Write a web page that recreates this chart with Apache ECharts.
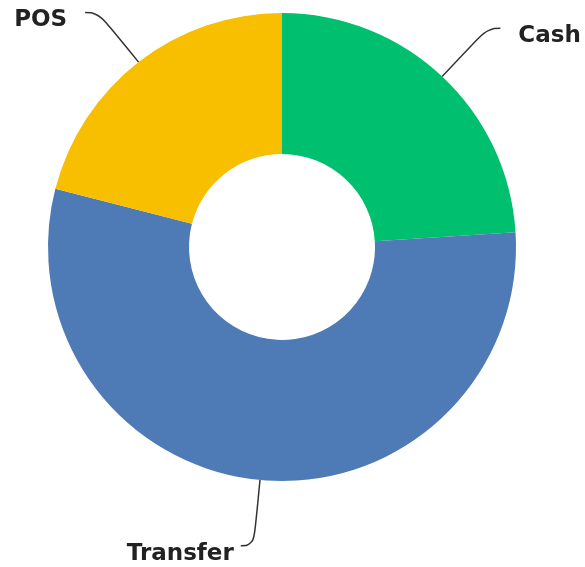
<!DOCTYPE html>
<html>
<head>
<meta charset="utf-8">
<script src="https://cdn.jsdelivr.net/npm/echarts@6/dist/echarts.min.js"></script>
<style>
  html, body { margin: 0; padding: 0; background: #fff; }
  #chart { width: 585px; height: 567px; }
</style>
</head>
<body>
<div id="chart"></div>
<script>
const categories = ['Cash', 'Transfer', 'POS']
const values = [24, 55, 21]
const colors = ['#00BF6F', '#4E7AB5', '#F8BE00']

let myChart = echarts.init(document.getElementById('chart'))

myChart.setOption({
  animation: false,
  color: colors,
  series: [
    {
      type: 'pie',
      center: [282, 247],
      radius: [93, 234],
      startAngle: 90,
      label: {
        show: true,
        color: '#222',
        fontFamily: 'DejaVu Sans',
        fontWeight: 'bold',
        fontSize: 23,
        overflow: 'none',
        distanceToLabelLine: 18
      },
      // names sit a little below where the line ends
      labelLayout: {
        dy: 8
      },
      labelLine: {
        show: true,
        length: 66,
        length2: 13,
        smooth: 0.5,
        lineStyle: {
          color: '#333',
          width: 1.5
        }
      },
      data: categories.map((name, i) => ({
        name: name,
        value: values[i],
        // the bottom label sits closer to its line
        label: name === 'Transfer' ? { distanceToLabelLine: 7 } : {}
      }))
    }
  ]
})
</script>
</body>
</html>
